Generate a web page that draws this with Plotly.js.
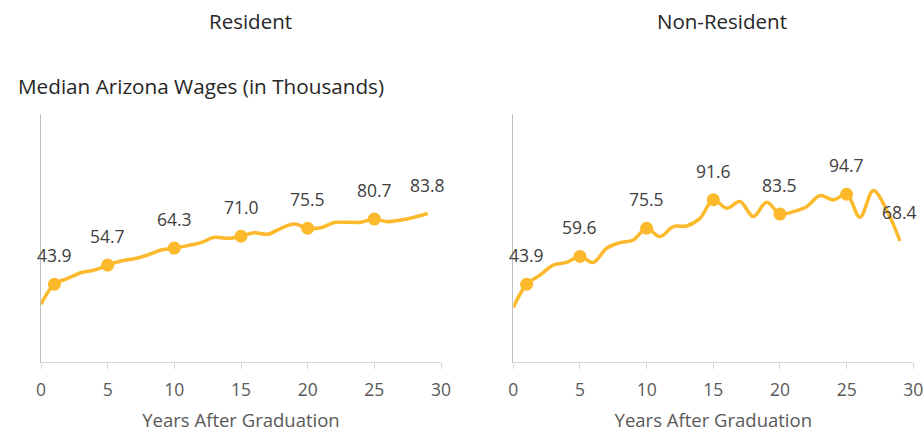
<!DOCTYPE html>
<html><head><meta charset="utf-8">
<script src="https://cdn.plot.ly/plotly-3.0.1.min.js"></script>
<style>html,body{margin:0;padding:0;background:#fff}#chart{width:924px;height:437px}</style>
</head><body><div id="chart"></div>
<script>
const years = [0,1,2,3,4,5,6,7,8,9,10,11,12,13,14,15,16,17,18,19,20,21,22,23,24,25,26,27,28,29];
const residentWages = [32.6,43.9,47.2,50.4,51.9,54.7,57.0,58.3,60.4,63.2,64.3,65.7,67.4,70.4,69.8,71.0,73.0,72.1,75.5,77.9,75.5,75.8,78.7,78.9,78.9,80.7,79.2,80.2,81.7,83.8];
const nonResidentWages = [30.8,43.9,49.0,54.7,56.2,59.6,56.2,64.2,67.4,68.9,75.5,70.8,76.4,76.8,81.1,91.6,86.8,90.6,82.1,90.2,83.5,84.9,87.7,94.0,91.5,94.7,81.7,96.8,85.8,68.4];
const markerYears = [1,5,10,15,20,25];
const labelYears = [1,5,10,15,20,25,29];
const xTicks = [0,5,10,15,20,25,30];

const gold = '#FBB92B';
const FONT = '"Open Sans", Lato, sans-serif';
const labelFont = {family:FONT, size:17.5, color:'#404040'};

function pick(arr, ys){ return ys.map(y => arr[years.indexOf(y)]); }

function traces(vals, xa, ya){
  return [
    {x: years, y: vals, xaxis: xa, yaxis: ya, type:'scatter', mode:'lines',
     line:{color:gold, width:3.5, shape:'spline', smoothing:1}, hoverinfo:'skip'},
    {x: markerYears, y: pick(vals, markerYears), xaxis: xa, yaxis: ya, type:'scatter', mode:'markers',
     marker:{color:gold, size:13}, hoverinfo:'skip', cliponaxis:false}
  ];
}
function labels(vals, xa, ya){
  return labelYears.map(yr => ({
    x: yr, y: vals[years.indexOf(yr)], xref: xa, yref: ya, text: vals[years.indexOf(yr)].toFixed(1),
    showarrow:false, yshift:29, xanchor:'center', yanchor:'middle', font: labelFont
  }));
}

const data = [...traces(residentWages,'x','y'), ...traces(nonResidentWages,'x2','y2')];

const xCommon = {range:[0,30], tickvals:xTicks, ticktext:xTicks.map(String), showgrid:false, zeroline:false,
  showline:true, linecolor:'#d9d9d9', linewidth:1, ticks:'outside', ticklen:6, tickcolor:'#d9d9d9',
  ticklabelstandoff:6,
  tickfont:{family:FONT, size:17.5, color:'#595959'},
  title:{text:'Years After Graduation', font:{family:FONT, size:18.5, color:'#595959'}, standoff:14},
  fixedrange:true};
const yCommon = {range:[0,140], showgrid:false, zeroline:false, showticklabels:false, ticks:'',
  showline:true, linecolor:'#bfbfbf', linewidth:1, fixedrange:true};

const layout = {
  width:924, height:437, margin:{l:0,r:0,t:0,b:0}, showlegend:false,
  paper_bgcolor:'#fff', plot_bgcolor:'#fff',
  xaxis: Object.assign({}, xCommon, {domain:[41/924, 441/924], anchor:'y'}),
  yaxis: Object.assign({}, yCommon, {domain:[1-362/437, 1-114/437], anchor:'x'}),
  xaxis2: Object.assign({}, xCommon, {domain:[513.3/924, 913.3/924], anchor:'y2'}),
  yaxis2: Object.assign({}, yCommon, {domain:[1-362/437, 1-114/437], anchor:'x2'}),
  annotations:[
    {text:'Resident', xref:'paper', yref:'paper', x:250/924, y:1-21/437, xanchor:'center', yanchor:'middle', showarrow:false,
     font:{family:FONT, size:20.5, color:'#262626'}},
    {text:'Non-Resident', xref:'paper', yref:'paper', x:722/924, y:1-21/437, xanchor:'center', yanchor:'middle', showarrow:false,
     font:{family:FONT, size:20.5, color:'#262626'}},
    {text:'Median Arizona Wages (in Thousands)', xref:'paper', yref:'paper', x:16/924, y:1-86/437, xanchor:'left', yanchor:'middle', showarrow:false,
     font:{family:FONT, size:20.7, color:'#262626'}},
    ...labels(residentWages,'x','y'),
    ...labels(nonResidentWages,'x2','y2')
  ]
};
Plotly.newPlot('chart', data, layout, {displayModeBar:false, staticPlot:true});
</script></body></html>
